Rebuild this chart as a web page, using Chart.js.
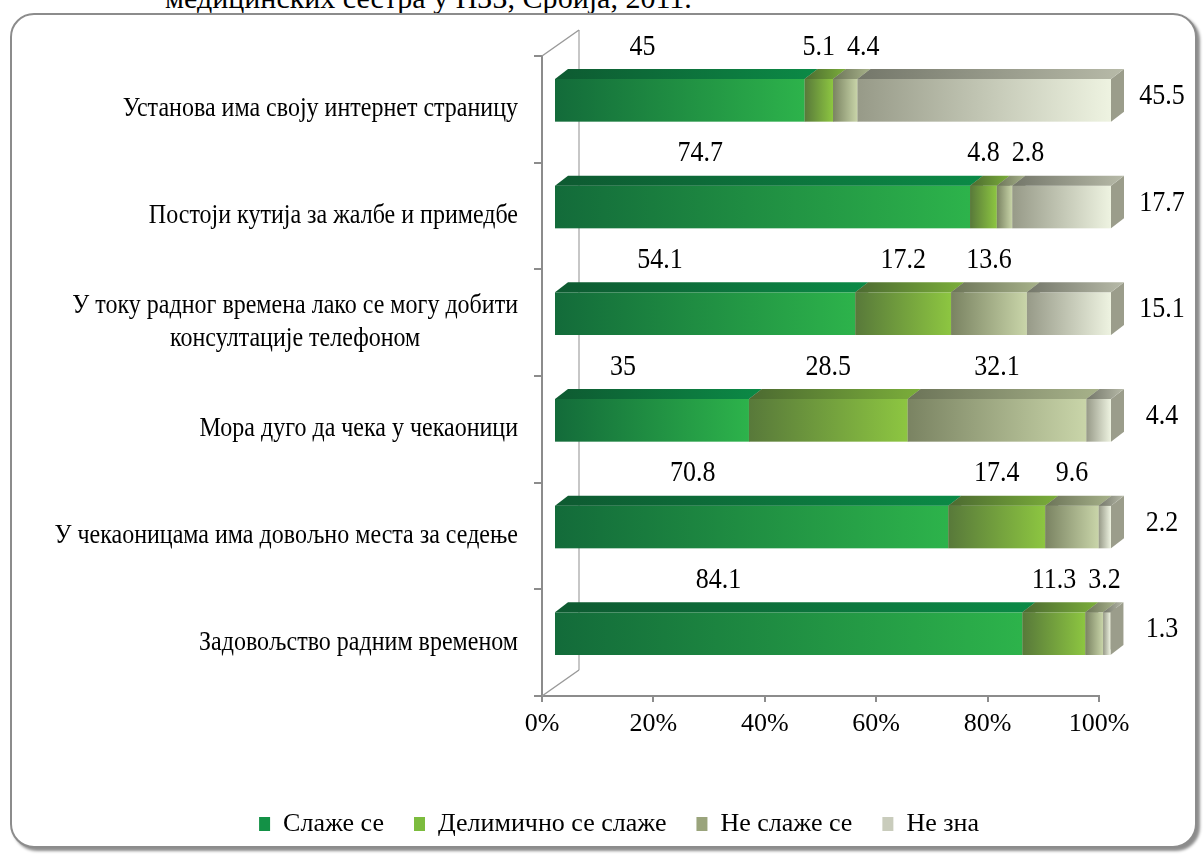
<!DOCTYPE html>
<html>
<head>
<meta charset="utf-8">
<script src="https://cdn.jsdelivr.net/npm/chart.js@4.4.1/dist/chart.umd.min.js"></script>
<style>
  html, body { margin: 0; padding: 0; background: #fff; }
  body { width: 1204px; height: 855px; position: relative; overflow: hidden; }
  #title { position: absolute; left: 165px; top: -17px; font: 30px 'Liberation Serif', serif; line-height: 1; white-space: nowrap; }
  #frame { position: absolute; left: 10px; top: 13px; width: 1183px; height: 831px;
           border: 2px solid #8c8c8c; border-radius: 24px; box-shadow: 3px 3px 3px rgba(0,0,0,0.45); background: #fff; }
  #chart { position: absolute; left: 0; top: 0; }
</style>
</head>
<body>
<div id="title">медицинских сестра у ПЗЗ, Србија, 2011.</div>
<div id="frame"></div>
<canvas id="chart" width="1204" height="855"></canvas>
<script>
// categories, top to bottom
const categories = [
    'Установа има своју интернет страницу',
    'Постоји кутија за жалбе и примедбе',
    ['У току радног времена лако се могу добити', 'консултације телефоном'],
    'Мора дуго да чека у чекаоници',
    'У чекаоницама има довољно места за седење',
    'Задовољство радним временом'
];
const seriesNames = ['Слаже се', 'Делимично се слаже', 'Не слаже се', 'Не зна'];
const agree = [45, 74.7, 54.1, 35, 70.8, 84.1];
const partly = [5.1, 4.8, 17.2, 28.5, 17.4, 11.3];
const disagree = [4.4, 2.8, 13.6, 32.1, 9.6, 3.2];
const dontKnow = [45.5, 17.7, 15.1, 4.4, 2.2, 1.3];

const FONT = "'Liberation Serif', 'Times New Roman', serif";
const STRETCH = 1.12; // text in the original is a bit taller than wide

// front / top face gradients per series
const faces = [
    { front: ['#136b3a', '#2db34b'], top: ['#0e5a31', '#0b8a46'], legend: '#139146' },
    { front: ['#58793a', '#8dc641'], top: ['#4c6a31', '#7bae3a'], legend: '#7cbc3e' },
    { front: ['#7a8362', '#c9d5a9'], top: ['#6c7458', '#a7b28a'], legend: '#9aa47c' },
    { front: ['#979a88', '#eef3e1'], top: ['#74776a', '#b7baa8'], legend: '#c9ccbc' }
];
const SHIFT_X = 12, SHIFT_Y = -9;   // front plane of bars vs axis plane
const DEPTH_X = 13, DEPTH_Y = -10;  // 3d depth

function hGrad(ctx, x0, x1, cols) {
    const g = ctx.createLinearGradient(x0, 0, x1, 0);
    g.addColorStop(0, cols[0]);
    g.addColorStop(1, cols[1]);
    return g;
}

function tallText(ctx, txt, x, y) {
    ctx.save();
    ctx.translate(x, y);
    ctx.scale(1, STRETCH);
    ctx.fillText(txt, 0, 0);
    ctx.restore();
}

const bars3d = {
    id: 'bars3d',
    beforeDatasetsDraw(chart) {
        // back wall and floor lines
        const ctx = chart.ctx, a = chart.chartArea;
        ctx.save();
        ctx.strokeStyle = '#b5b5b5';
        ctx.lineWidth = 1.5;
        ctx.beginPath();
        ctx.moveTo(a.left + 37, a.top - 26);
        ctx.lineTo(a.left + 37, a.bottom - 26);
        ctx.stroke();
        ctx.strokeStyle = '#9a9a9a';
        ctx.beginPath();
        ctx.moveTo(a.left, a.top);
        ctx.lineTo(a.left + 37, a.top - 26);
        ctx.moveTo(a.left, a.bottom);
        ctx.lineTo(a.left + 37, a.bottom - 26);
        ctx.stroke();
        ctx.restore();
    },
    beforeDatasetDraw() {
        return false;
    },
    afterDatasetsDraw(chart) {
        const ctx = chart.ctx;
        ctx.save();
        for (let r = 0; r < chart.data.labels.length; r++) {
            chart.data.datasets.forEach((ds, i) => {
                const bar = chart.getDatasetMeta(i).data[r];
                const p = bar.getProps(['x', 'y', 'base', 'height'], true);
                const x0 = Math.min(p.base, p.x) + SHIFT_X;
                const x1 = Math.max(p.base, p.x) + SHIFT_X;
                const top = p.y - p.height / 2 + SHIFT_Y;
                const bottom = top + p.height;
                const c = faces[i];
                // side
                ctx.fillStyle = '#9b9d8b';
                ctx.beginPath();
                ctx.moveTo(x1, top);
                ctx.lineTo(x1 + DEPTH_X, top + DEPTH_Y);
                ctx.lineTo(x1 + DEPTH_X, bottom + DEPTH_Y);
                ctx.lineTo(x1, bottom);
                ctx.closePath();
                ctx.fill();
                // front
                ctx.fillStyle = hGrad(ctx, x0, x1, c.front);
                ctx.fillRect(x0, top, x1 - x0, p.height);
                // top
                ctx.fillStyle = hGrad(ctx, x0, x1 + DEPTH_X, c.top);
                ctx.beginPath();
                ctx.moveTo(x0, top);
                ctx.lineTo(x0 + DEPTH_X, top + DEPTH_Y);
                ctx.lineTo(x1 + DEPTH_X, top + DEPTH_Y);
                ctx.lineTo(x1, top);
                ctx.closePath();
                ctx.fill();
            });
        }
        ctx.restore();
    },
    afterDraw(chart) {
        const ctx = chart.ctx, a = chart.chartArea;
        const yScale = chart.scales.y;
        ctx.save();
        ctx.fillStyle = '#000';
        ctx.textBaseline = 'middle';
        ctx.textAlign = 'center';

        // category labels: block right aligned, lines centred in block
        ctx.font = '24px ' + FONT;
        chart.data.labels.forEach((lab, r) => {
            const lines = Array.isArray(lab) ? lab : [lab];
            const w = Math.max(...lines.map(l => ctx.measureText(l).width));
            const right = a.left - 24;
            const cy = yScale.getPixelForValue(r);
            lines.forEach((l, k) => {
                tallText(ctx, l, right - w / 2, cy + (k - (lines.length - 1) / 2) * 33);
            });
        });

        // value labels
        ctx.font = '26px ' + FONT;
        for (let r = 0; r < chart.data.labels.length; r++) {
            let prevRight = -Infinity;
            chart.data.datasets.forEach((ds, i) => {
                const bar = chart.getDatasetMeta(i).data[r];
                const p = bar.getProps(['x', 'y', 'base', 'height'], true);
                const x0 = p.base + SHIFT_X, x1 = p.x + SHIFT_X;
                const top = p.y - p.height / 2 + SHIFT_Y;
                const txt = String(ds.data[r]);
                const tw = ctx.measureText(txt).width;
                if (i === chart.data.datasets.length - 1) {
                    tallText(ctx, txt, a.right + 63, p.y + SHIFT_Y - 4);
                    return;
                }
                let cx = i === 0 ? x0 + (x1 - x0) * 0.35 : (x0 + x1) / 2;
                if (cx - tw / 2 < prevRight + 12) cx = prevRight + 12 + tw / 2;
                prevRight = cx + tw / 2;
                tallText(ctx, txt, cx, top - 32);
            });
        }
        ctx.restore();
    }
};

new Chart(document.getElementById('chart'), {
    type: 'bar',
    data: {
        labels: categories,
        datasets: [agree, partly, disagree, dontKnow].map((d, i) => ({
            label: seriesNames[i],
            data: d,
            backgroundColor: faces[i].legend,
            borderWidth: 0,
            categoryPercentage: 0.4,
            barPercentage: 1
        }))
    },
    options: {
        indexAxis: 'y',
        responsive: false,
        animation: false,
        layout: { padding: { left: 34, right: 0, top: 56, bottom: 8 } },
        scales: {
            x: {
                stacked: true,
                min: 0,
                max: 100,
                ticks: {
                    stepSize: 20,
                    color: '#000',
                    font: { family: FONT, size: 26 },
                    padding: 7,
                    callback: v => v + '%'
                },
                grid: { drawOnChartArea: false, color: '#8c8c8c', tickLength: 6, lineWidth: 2 },
                border: { color: '#8c8c8c', width: 2 },
                afterFit: s => { s.height = 85; }
            },
            y: {
                stacked: true,
                ticks: { display: false },
                grid: { drawOnChartArea: false, offset: true, color: '#8c8c8c', tickLength: 8, lineWidth: 2 },
                border: { color: '#8c8c8c', width: 2 },
                afterFit: s => { s.width = 508; }
            },
            yRight: {
                type: 'category',
                position: 'right',
                ticks: { display: false },
                grid: { display: false },
                border: { display: false },
                afterFit: s => { s.width = 105; }
            }
        },
        plugins: {
            legend: {
                position: 'bottom',
                labels: {
                    color: '#000',
                    font: { family: FONT, size: 26 },
                    boxWidth: 11,
                    boxHeight: 14,
                    padding: 30
                }
            },
            tooltip: { enabled: false }
        }
    },
    plugins: [bars3d]
});
</script>
</body>
</html>
